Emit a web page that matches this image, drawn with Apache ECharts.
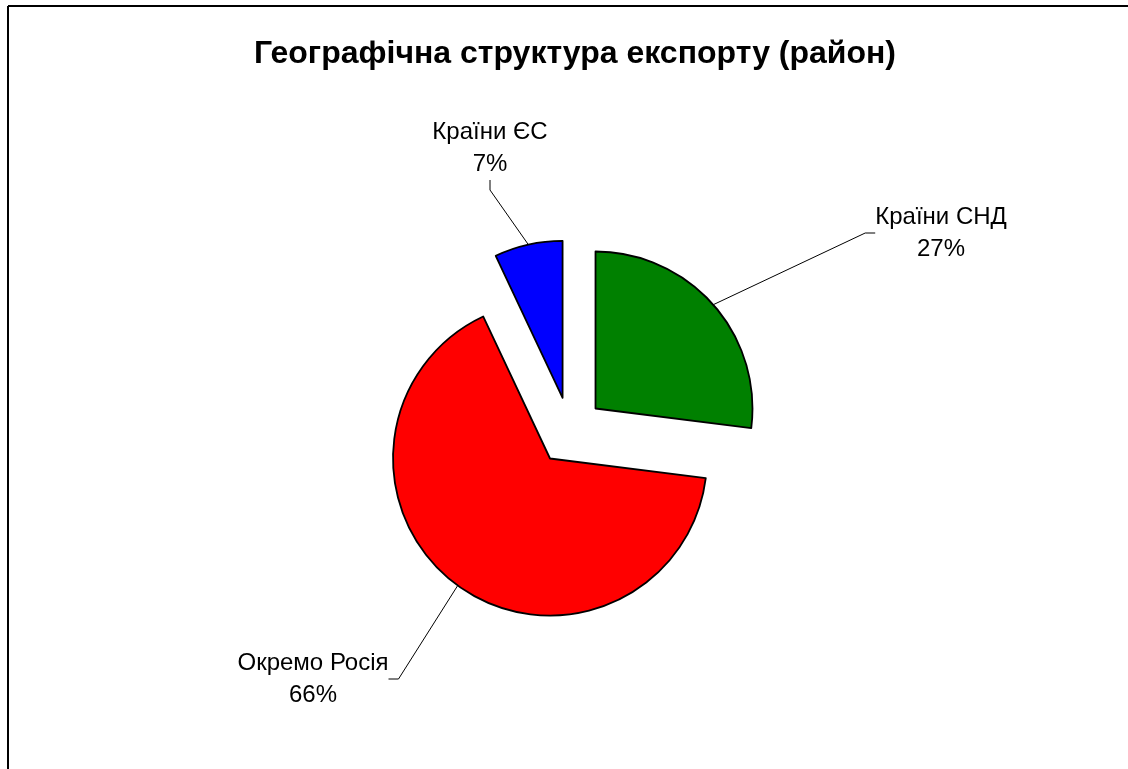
<!DOCTYPE html>
<html>
<head>
<meta charset="utf-8">
<script src="https://cdn.jsdelivr.net/npm/echarts@6/dist/echarts.min.js"></script>
<style>
  html, body { margin: 0; padding: 0; background: #fff; }
  #chart { width: 1128px; height: 769px; }
</style>
</head>
<body>
<div id="chart"></div>
<script>
// дані з діаграми
const regions = ['Країни СНД', 'Окремо Росія', 'Країни ЄС'];
const shares = [27, 66, 7];
const colors = ['#008000', '#FF0000', '#0000FF'];
// де стоять підписи (центр блоку тексту)
const labelSpots = [[941, 233], [313, 679], [490, 148]];

const pieCenter = [570, 431];
const explode = 34;

const chart = echarts.init(document.getElementById('chart'));

// кожен сектор -- окрема серія, зсунута від центру вздовж своєї бісектриси
const total = shares.reduce((a, b) => a + b, 0);
let before = 0;
const pies = shares.map((v, k) => {
  const mid = (90 - 360 * (before + v / 2) / total) * Math.PI / 180;
  before += v;
  return {
    type: 'pie',
    silent: true,
    center: [pieCenter[0] + explode * Math.cos(mid), pieCenter[1] - explode * Math.sin(mid)],
    radius: 157,
    startAngle: 90,
    clockwise: true,
    emphasis: { disabled: true },
    label: {
      show: true,
      formatter: '{b}\n{d}%',
      fontFamily: 'Liberation Sans',
      fontSize: 24,
      lineHeight: 32,
      color: '#000',
      align: 'center'
    },
    labelLine: {
      show: true,
      length2: 10,
      lineStyle: { color: '#000', width: 1 }
    },
    labelLayout: function (p) {
      const s = labelSpots[p.dataIndex];
      return { x: s[0], y: s[1], align: 'center', verticalAlign: 'middle' };
    },
    data: regions.map((name, i) => ({
      name: name,
      value: shares[i],
      itemStyle: i === k
        ? { color: colors[i], borderColor: '#000', borderWidth: 1.8 }
        : { color: 'rgba(0,0,0,0)', borderWidth: 0 },
      label: { show: i === k },
      labelLine: { show: i === k }
    }))
  };
});

const option = {
  backgroundColor: '#fff',
  animation: false,
  title: {
    text: 'Географічна структура експорту (район)',
    left: 570,
    top: 33,
    textAlign: 'center',
    textStyle: {
      fontFamily: 'Liberation Sans',
      fontWeight: 'bold',
      fontSize: 32,
      color: '#000'
    }
  },
  graphic: [
    { type: 'line', shape: { x1: 8, y1: 6, x2: 1128, y2: 6 }, style: { stroke: '#000', lineWidth: 2 } },
    { type: 'line', shape: { x1: 8, y1: 6, x2: 8, y2: 769 }, style: { stroke: '#000', lineWidth: 2 } }
  ],
  series: pies
};

chart.setOption(option);
</script>
</body>
</html>
